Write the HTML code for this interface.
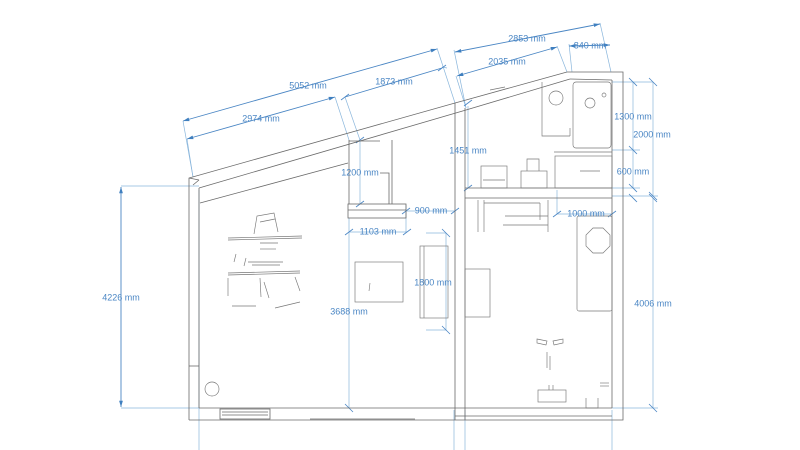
<!DOCTYPE html>
<html><head><meta charset="utf-8"><style>
html,body{margin:0;padding:0;background:#fff;width:800px;height:450px;overflow:hidden}
svg{display:block}
text{font-family:"Liberation Sans",sans-serif;font-size:9px;fill:#4a86c4;text-anchor:middle;dominant-baseline:middle}
.w{stroke:#6a6a6a;stroke-width:0.8;fill:none}
.f{stroke:#777;stroke-width:0.65;fill:none}
.d{stroke:#8ab6dc;stroke-width:0.7;fill:none}
.t{stroke:#4a86c4;stroke-width:0.9;fill:none}
</style></head><body>
<svg width="800" height="450" viewBox="0 0 800 450" xmlns="http://www.w3.org/2000/svg">
<defs><marker id="a" viewBox="0 0 10 10" refX="10" refY="5" markerWidth="7" markerHeight="7" orient="auto-start-reverse"><path d="M0,2L10,5L0,8z" fill="#3f7fbf"/></marker></defs>

<g class="d">
<line x1="121" y1="186" x2="199" y2="186"/><line x1="121" y1="408" x2="199" y2="408"/>
<line x1="199" y1="190" x2="199" y2="450"/><line x1="454" y1="410" x2="454" y2="450"/><line x1="465" y1="410" x2="465" y2="450"/><line x1="612" y1="410" x2="612" y2="450"/>
<line x1="183" y1="121" x2="193" y2="177"/><line x1="187" y1="139" x2="193" y2="177"/>
<line x1="437" y1="48" x2="455" y2="103"/><line x1="335" y1="97" x2="349" y2="140"/>
<line x1="345" y1="97" x2="360" y2="140"/><line x1="442" y1="67" x2="447" y2="68"/>
<line x1="454" y1="50" x2="466" y2="108"/><line x1="456" y1="76" x2="466" y2="108"/>
<line x1="600" y1="23" x2="611" y2="72"/><line x1="557" y1="46" x2="567" y2="72"/><line x1="569" y1="44" x2="572" y2="72"/>
<line x1="612" y1="82" x2="653" y2="82"/><line x1="612" y1="150" x2="640" y2="150"/><line x1="612" y1="188" x2="640" y2="188"/><line x1="612" y1="196" x2="658" y2="196"/><line x1="612" y1="408" x2="658" y2="408"/>
<line x1="360" y1="140" x2="360" y2="204"/><line x1="468" y1="106" x2="468" y2="188"/>
<line x1="349" y1="218" x2="349" y2="408"/><line x1="446" y1="233" x2="446" y2="330"/>
<line x1="406" y1="205" x2="406" y2="232"/><line x1="557" y1="190" x2="557" y2="214"/>
<line x1="426" y1="233" x2="446" y2="233"/><line x1="426" y1="330" x2="446" y2="330"/>
</g>

<g class="t">
<line x1="183" y1="121" x2="437" y2="49" marker-start="url(#a)" marker-end="url(#a)"/>
<line x1="187" y1="139" x2="335" y2="97" marker-start="url(#a)" marker-end="url(#a)"/>
<line x1="345" y1="97" x2="442" y2="68"/>
<line x1="455" y1="52" x2="600" y2="24" marker-start="url(#a)" marker-end="url(#a)"/>
<line x1="457" y1="76" x2="557" y2="47" marker-start="url(#a)" marker-end="url(#a)"/>
<line x1="569" y1="46" x2="610" y2="45" marker-start="url(#a)" marker-end="url(#a)"/>
<line x1="121" y1="187" x2="121" y2="407" marker-start="url(#a)" marker-end="url(#a)"/>
</g>
<g class="d">
<line x1="653" y1="82" x2="653" y2="196"/><line x1="633" y1="82" x2="633" y2="188"/>
<line x1="653" y1="198" x2="653" y2="408"/>
<line x1="406" y1="211" x2="455" y2="211"/><line x1="349" y1="232" x2="407" y2="232"/><line x1="557" y1="214" x2="612" y2="214"/>
</g>
<g stroke="#4a86c4" stroke-width="0.8">
<line x1="341" y1="100" x2="349" y2="94"/><line x1="438" y1="71" x2="446" y2="65"/>
<line x1="356" y1="143" x2="364" y2="137"/><line x1="356" y1="207" x2="364" y2="201"/>
<line x1="464" y1="106" x2="472" y2="100"/><line x1="464" y1="191" x2="472" y2="185"/>
<line x1="345" y1="235" x2="353" y2="229"/><line x1="403" y1="235" x2="411" y2="229"/>
<line x1="402" y1="214" x2="410" y2="208"/><line x1="451" y1="214" x2="459" y2="208"/>
<line x1="553" y1="217" x2="561" y2="211"/><line x1="608" y1="217" x2="616" y2="211"/>
<line x1="442" y1="229" x2="450" y2="237"/><line x1="442" y1="326" x2="450" y2="334"/>
<line x1="345" y1="404" x2="353" y2="412"/>
<line x1="629" y1="78" x2="637" y2="86"/><line x1="629" y1="146" x2="637" y2="154"/><line x1="629" y1="184" x2="637" y2="192"/>
<line x1="649" y1="78" x2="657" y2="86"/><line x1="649" y1="192" x2="657" y2="200"/><line x1="649" y1="194" x2="657" y2="202"/><line x1="649" y1="404" x2="657" y2="412"/>
<line x1="629" y1="194" x2="637" y2="202"/>
</g>

<g class="w">
<polyline points="189,420 189,178 455,103 455,420"/>
<polyline points="199,408 199,188 199,190"/>
<line x1="189" y1="178" x2="199" y2="180"/><line x1="193" y1="185" x2="199" y2="180"/>
<line x1="199" y1="188" x2="466" y2="110"/>
<line x1="200" y1="203" x2="348" y2="163"/>
<line x1="455" y1="103" x2="466" y2="100"/>
<line x1="466" y1="100" x2="567" y2="72"/><line x1="466" y1="110" x2="570" y2="79"/>
<polyline points="567,72 623,72 623,420 455,420"/>
<line x1="612" y1="80" x2="612" y2="408"/>
<line x1="570" y1="79" x2="612" y2="80"/>
<line x1="465" y1="108" x2="465" y2="420"/>
<line x1="189" y1="420" x2="455" y2="420"/>
<line x1="199" y1="408" x2="612" y2="408"/>
<line x1="455" y1="416" x2="612" y2="416"/>
<line x1="465" y1="188" x2="612" y2="188"/><line x1="465" y1="198" x2="612" y2="198"/>
<line x1="189" y1="366" x2="199" y2="366"/>
<rect x="220" y="409" width="50" height="10"/><line x1="222" y1="412" x2="268" y2="412"/><line x1="222" y1="415" x2="268" y2="415"/>
<line x1="310" y1="419" x2="415" y2="419"/>
<line x1="349" y1="140" x2="349" y2="204"/><line x1="392" y1="140" x2="392" y2="204"/>
<line x1="349" y1="141" x2="380" y2="141"/>
<polyline points="380,173 389,173 389,204"/>
<rect x="348" y="204" width="58" height="14"/><line x1="348" y1="210" x2="406" y2="210"/>
</g>

<g class="f">
<rect x="355" y="262" width="48" height="40"/><line x1="370" y1="283" x2="369" y2="291"/>
<rect x="420" y="246" width="28" height="72"/><line x1="424" y1="246" x2="424" y2="318"/>
<circle cx="212" cy="389" r="7"/>
<polyline points="254,234 257,216 274,213 278,232"/><line x1="260" y1="222" x2="275" y2="219"/>
<line x1="228" y1="238" x2="302" y2="236"/><line x1="228" y1="240" x2="302" y2="238"/>
<line x1="260" y1="243" x2="278" y2="243"/><line x1="260" y1="249" x2="276" y2="249"/>
<line x1="236" y1="254" x2="234" y2="262"/><line x1="246" y1="258" x2="244" y2="266"/><line x1="248" y1="262" x2="283" y2="262"/>
<line x1="252" y1="265" x2="280" y2="265"/>
<line x1="228" y1="273" x2="300" y2="271"/><line x1="228" y1="275" x2="300" y2="273"/>
<line x1="228" y1="278" x2="228" y2="296"/><line x1="260" y1="278" x2="261" y2="297"/><line x1="264" y1="282" x2="269" y2="298"/><line x1="295" y1="277" x2="300" y2="291"/>
<line x1="232" y1="306" x2="256" y2="306"/><line x1="275" y1="308" x2="300" y2="302"/>
<circle cx="556" cy="98" r="7"/>
<rect x="573" y="82" width="38" height="66" rx="3"/><circle cx="590" cy="103" r="5"/><circle cx="604" cy="95" r="2"/>
<polyline points="542,82 542,136 570,136"/><line x1="570" y1="128" x2="570" y2="136"/>
<line x1="554" y1="152" x2="612" y2="152"/><rect x="555" y="156" width="57" height="32"/><line x1="580" y1="171" x2="600" y2="171"/>
<rect x="481" y="166" width="26" height="22"/><line x1="483" y1="180" x2="505" y2="180"/>
<rect x="521" y="171" width="26" height="17"/><polyline points="527,171 527,159 539,159 539,171"/>
<line x1="478" y1="200" x2="478" y2="232"/><line x1="484" y1="200" x2="484" y2="232"/><line x1="484" y1="203" x2="540" y2="203"/><line x1="540" y1="203" x2="540" y2="220"/>
<line x1="505" y1="216" x2="548" y2="216"/><line x1="503" y1="225" x2="548" y2="225"/><line x1="548" y1="200" x2="548" y2="232"/>
<line x1="490" y1="90" x2="505" y2="87"/>
<rect x="577" y="216" width="35" height="95" rx="2"/>
<polygon points="593,228 603,228 610,235 610,246 603,253 593,253 586,246 586,235"/>
<rect x="465" y="269" width="25" height="48"/>
<polygon points="537,339 547,341 546,345 537,343"/><polygon points="553,341 563,339 563,343 554,345"/>
<line x1="547" y1="352" x2="547" y2="368"/><line x1="550" y1="356" x2="550" y2="370"/>
<rect x="538" y="390" width="28" height="12"/><line x1="549" y1="385" x2="549" y2="390"/><line x1="553" y1="385" x2="553" y2="390"/>
<line x1="600" y1="383" x2="609" y2="383"/><line x1="600" y1="386" x2="609" y2="386"/>
<polyline points="586,398 586,408 598,408 598,398"/>
</g>

<g>
<text x="308" y="86">5052 mm</text>
<text x="261" y="119">2974 mm</text>
<text x="394" y="82">1873 mm</text>
<text x="527" y="39">2853 mm</text>
<text x="507" y="62">2035 mm</text>
<text x="590" y="46">840 mm</text>
<text x="468" y="151">1451 mm</text>
<text x="360" y="173">1200 mm</text>
<text x="431" y="211">900 mm</text>
<text x="378" y="232">1103 mm</text>
<text x="586" y="214">1000 mm</text>
<text x="433" y="283">1800 mm</text>
<text x="349" y="312">3688 mm</text>
<text x="121" y="298">4226 mm</text>
<text x="653" y="304">4006 mm</text>
<text x="652" y="135">2000 mm</text>
<text x="633" y="117">1300 mm</text>
<text x="633" y="172">600 mm</text>
</g>
</svg>
</body></html>
